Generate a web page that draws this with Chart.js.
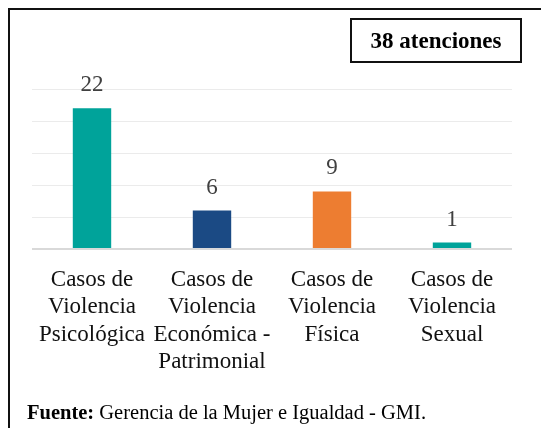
<!DOCTYPE html>
<html>
<head>
<meta charset="utf-8">
<script src="https://cdn.jsdelivr.net/npm/chart.js@4/dist/chart.umd.min.js"></script>
<style>
  body { margin: 0; background: #fff; }
  #wrap { position: relative; width: 541px; height: 428px; overflow: hidden; font-family: 'Liberation Serif', 'Times New Roman', serif; }
  #frame { position: absolute; left: 8px; top: 8px; width: 560px; height: 440px; border: 2px solid #111; }
  #total { position: absolute; left: 350px; top: 18px; width: 168px; height: 41px; border: 2px solid #111;
           font-weight: bold; font-size: 23px; line-height: 41px; text-align: center; color: #000; }
  #source { position: absolute; left: 27px; top: 401px; font-size: 20.5px; color: #000; white-space: nowrap; }
  canvas { position: absolute; left: 0; top: 0; }
</style>
</head>
<body>
<div id="wrap">
  <div id="frame"></div>
  <canvas id="chart" width="541" height="428"></canvas>
  <div id="total">38 atenciones</div>
  <div id="source"><b>Fuente:</b> Gerencia de la Mujer e Igualdad - GMI.</div>
</div>
<script>
const categories = [
  ['Casos de', 'Violencia', 'Psicológica'],
  ['Casos de', 'Violencia', 'Económica -', 'Patrimonial'],
  ['Casos de', 'Violencia', 'Física'],
  ['Casos de', 'Violencia', 'Sexual']
];
const cases = [22, 6, 9, 1];
const barColors = ['#00A39A', '#1B4A84', '#ED7D31', '#00A39A'];

const serif = "'Liberation Serif', 'Times New Roman', serif";

// value labels above the bars
const valueLabels = {
  id: 'valueLabels',
  afterDatasetsDraw(chart) {
    const ctx = chart.ctx;
    const meta = chart.getDatasetMeta(0);
    ctx.save();
    ctx.font = '23px ' + serif;
    ctx.fillStyle = '#404040';
    ctx.textAlign = 'center';
    ctx.textBaseline = 'alphabetic';
    meta.data.forEach((bar, i) => {
      ctx.fillText(String(cases[i]), bar.x, bar.y - 17);
    });
    ctx.restore();
  }
};

new Chart(document.getElementById('chart'), {
  type: 'bar',
  data: {
    labels: categories,
    datasets: [{
      data: cases,
      backgroundColor: barColors,
      categoryPercentage: 1,
      barPercentage: 0.32
    }]
  },
  options: {
    responsive: false,
    animation: false,
    layout: { padding: { left: 32, right: 29, top: 89, bottom: 0 } },
    plugins: { legend: { display: false }, tooltip: { enabled: false } },
    scales: {
      x: {
        grid: { display: false, drawTicks: false },
        border: { display: false },
        ticks: {
          color: '#111',
          padding: 17,
          maxRotation: 0,
          autoSkip: false,
          font: { family: serif, size: 23, lineHeight: 27.5 / 23 }
        },
        afterFit(scale) { scale.height = 179; }
      },
      y: {
        min: 0,
        max: 25,
        ticks: { display: false, stepSize: 5 },
        border: { display: false },
        grid: {
          drawTicks: false,
          color: ctx => ctx.index === 0 ? '#d9d9d9' : '#ebebeb',
          lineWidth: ctx => ctx.index === 0 ? 2 : 1
        },
        afterFit(scale) { scale.width = 0; }
      }
    }
  },
  plugins: [valueLabels]
});
</script>
</body>
</html>
